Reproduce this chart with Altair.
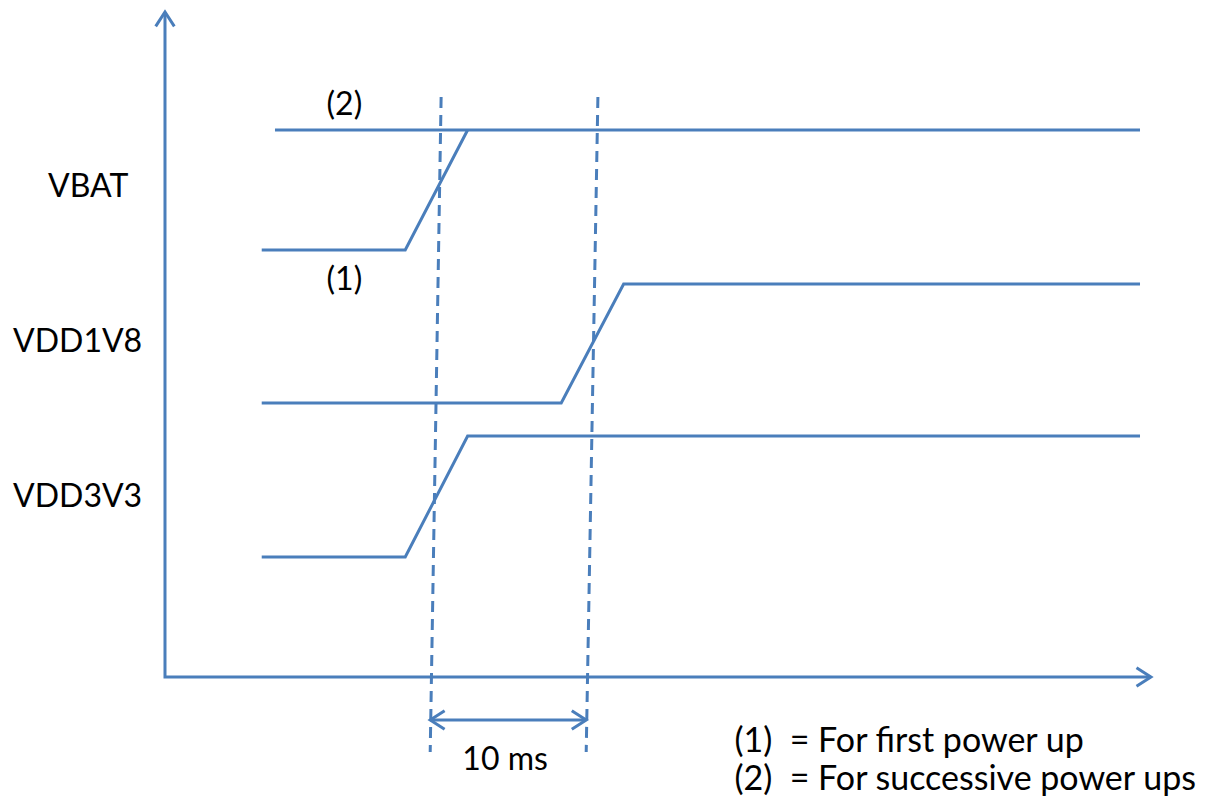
import altair as alt
import pandas as pd

BLUE = "#4a7ebb"
FONT = "Lato"
FS = 32

# Waveforms: time (ms) and level (diagram units)
sig_names = ["VBAT (1)", "VBAT (2)", "VDD1V8", "VDD3V3"]
sig_t = [
    [6.2, 15.4, 19.4],
    [7.05, 62.5],
    [6.2, 25.4, 29.4, 62.5],
    [6.2, 15.4, 19.4, 62.5],
]
sig_v = [
    [42.7, 42.7, 54.7],
    [54.7, 54.7],
    [27.4, 27.4, 39.3, 39.3],
    [12.0, 12.0, 24.1, 24.1],
]

# Axes of the diagram (drawn as lines with arrow tips)
axis_t = [0, 0, 63.2]
axis_v = [66.5, 0, 0]

# Dashed markers (slightly slanted)
mark_t_top = [17.7, 27.75]
mark_t_bot = [17.0, 27.0]
mark_v_top = 58.0
mark_v_bot = -7.5

# 10 ms dimension arrow
dim_t = [17.0, 27.0]
dim_v = -4.3

# Arrow tips: t, v, angle
tip_t = [0, 63.2, 17.0, 27.0]
tip_v = [66.5, 0, -4.3, -4.3]
tip_angle = [0, 90, 270, 90]

# Labels
lab_text = ["VBAT", "VDD1V8", "VDD3V3"]
lab_t = [-7.5, -9.74, -9.74]
lab_v = [49.0, 33.5, 18.0]

note_text = ["(2)", "(1)", "10 ms"]
note_t = [11.5, 11.5, 21.8]
note_v = [57.2, 39.7, -8.3]

legend_text = ["(1)\u00a0\u00a0= For first power up", "(2)\u00a0\u00a0= For successive power ups"]
legend_t = [36.5, 36.5]
legend_v = [-6.5, -10.3]

X_DOM = [-10.064, 67.115]
Y_DOM = [-12.0, 66.9]

xs = alt.Scale(domain=X_DOM, nice=False, zero=False)
ys = alt.Scale(domain=Y_DOM, nice=False, zero=False)

rows = []
for name, ts, vs in zip(sig_names, sig_t, sig_v):
    for i, (t, v) in enumerate(zip(ts, vs)):
        rows.append({"series": name, "t": t, "v": v, "i": i})
for i, (t, v) in enumerate(zip(axis_t, axis_v)):
    rows.append({"series": "axes", "t": t, "v": v, "i": i})
for i, t in enumerate(dim_t):
    rows.append({"series": "dim", "t": t, "v": dim_v, "i": i})
lines_df = pd.DataFrame(rows)

lines = alt.Chart(lines_df).mark_line(color=BLUE, strokeWidth=3).encode(
    x=alt.X("t:Q", scale=xs, axis=None),
    y=alt.Y("v:Q", scale=ys, axis=None),
    detail="series:N",
    order="i:O",
)

dash_df = pd.DataFrame({
    "t": mark_t_top, "t2": mark_t_bot,
    "v": [mark_v_top] * 2, "v2": [mark_v_bot] * 2,
})
dashes = alt.Chart(dash_df).mark_rule(color=BLUE, strokeWidth=3, strokeDash=[11, 7]).encode(
    x=alt.X("t:Q", scale=xs, axis=None), x2="t2:Q",
    y=alt.Y("v:Q", scale=ys, axis=None), y2="v2:Q",
)

tips_df = pd.DataFrame({"t": tip_t, "v": tip_v, "a": tip_angle})
tips = alt.Chart(tips_df).mark_point(
    shape="M-0.55,0.85L0,0L0.55,0.85", filled=False, color=BLUE,
    strokeWidth=3, size=1150, opacity=1,
).encode(
    x=alt.X("t:Q", scale=xs, axis=None),
    y=alt.Y("v:Q", scale=ys, axis=None),
    angle=alt.Angle("a:Q", scale=None),
)

labs_df = pd.DataFrame({"text": lab_text, "t": lab_t, "v": lab_v})
labs = alt.Chart(labs_df).mark_text(
    align="left", baseline="middle", font=FONT, fontSize=FS, color="black"
).encode(
    x=alt.X("t:Q", scale=xs, axis=None),
    y=alt.Y("v:Q", scale=ys, axis=None),
    text="text:N",
)

notes_df = pd.DataFrame({"text": note_text, "t": note_t, "v": note_v})
notes = alt.Chart(notes_df).mark_text(
    align="center", baseline="middle", font=FONT, fontSize=FS, color="black"
).encode(
    x=alt.X("t:Q", scale=xs, axis=None),
    y=alt.Y("v:Q", scale=ys, axis=None),
    text="text:N",
)

leg_df = pd.DataFrame({"text": legend_text, "t": legend_t, "v": legend_v})
leg = alt.Chart(leg_df).mark_text(
    align="left", baseline="middle", font=FONT, fontSize=34, color="black"
).encode(
    x=alt.X("t:Q", scale=xs, axis=None),
    y=alt.Y("v:Q", scale=ys, axis=None),
    text="text:N",
)

chart = alt.layer(lines, dashes, tips, labs, notes, leg).properties(
    width=1204, height=789, padding=0, autosize="none", background="white"
).configure_view(stroke=None)

chart.save("out.html", embed_options={"renderer": "svg", "actions": False})
